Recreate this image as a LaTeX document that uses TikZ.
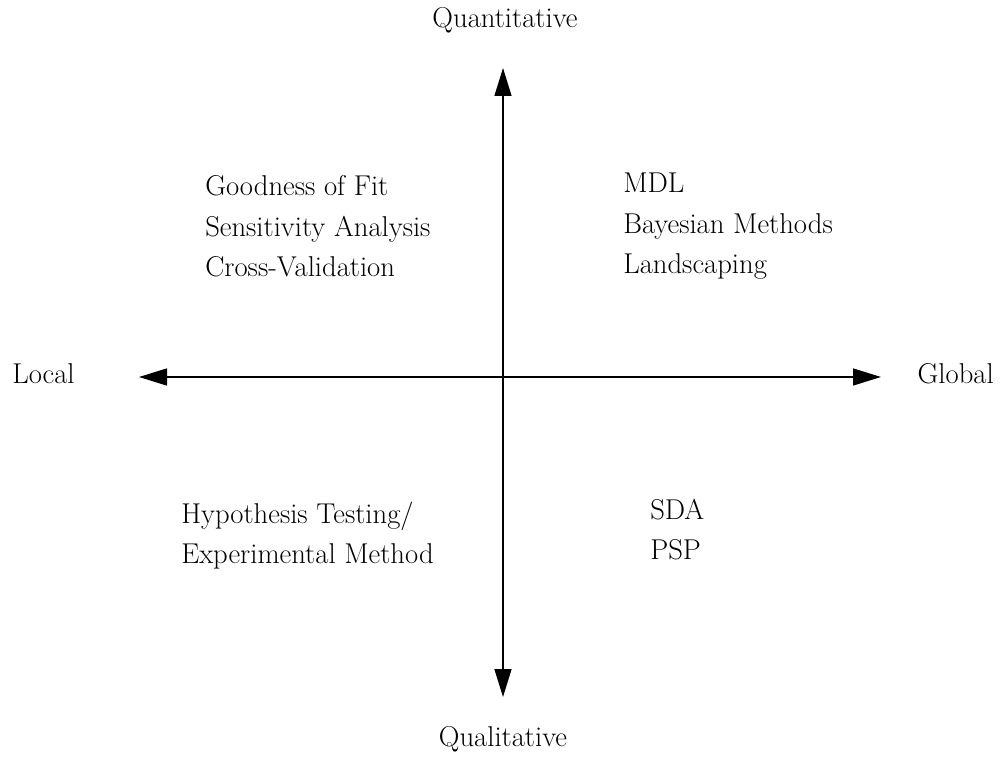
\documentclass[tikz,border=0pt]{standalone}
\usetikzlibrary{arrows.meta}
\begin{document}
\begin{tikzpicture}[x=0.75pt,y=-0.75pt,
  lbl/.style={inner sep=0pt,font=\fontsize{21.5}{25}\selectfont},
  item/.style={lbl,anchor=base west},
  axis/.style={line width=1.1pt,{Triangle[length=21pt,width=12.75pt]}-{Triangle[length=21pt,width=12.75pt]}}]
\useasboundingbox[fill=white] (0,0) rectangle (1001,759);
% axes
\coordinate (top) at (503,68);
\coordinate (bot) at (503,697);
\coordinate (lft) at (139,377);
\coordinate (rgt) at (881,377);
\draw[axis] (bot) -- (top);
\draw[axis] (lft) -- (rgt);
% axis labels
\node[lbl,anchor=base] (quant) at (505,28) {Quantitative};
\node[lbl,anchor=base] (qual) at (503,746) {Qualitative};
\node[lbl,anchor=base west] (local) at (12,384) {Local};
\node[lbl,anchor=base east] (global) at (994,384) {Global};
% top-left
\node[item] (gof) at (205,196) {Goodness of Fit};
\node[item] (sa) at (205,237) {Sensitivity Analysis};
\node[item] (cv) at (205,277) {Cross-Validation};
% top-right
\node[item] (mdl) at (623,193) {MDL};
\node[item] (bm) at (623,234) {Bayesian Methods};
\node[item] (ls) at (623,274) {Landscaping};
% bottom-left
\node[item] (ht) at (181,524) {Hypothesis Testing/};
\node[item] (em) at (181,564) {Experimental Method};
% bottom-right
\node[item] (sda) at (650,520) {SDA};
\node[item] (psp) at (650,560) {PSP};
\end{tikzpicture}
\end{document}
